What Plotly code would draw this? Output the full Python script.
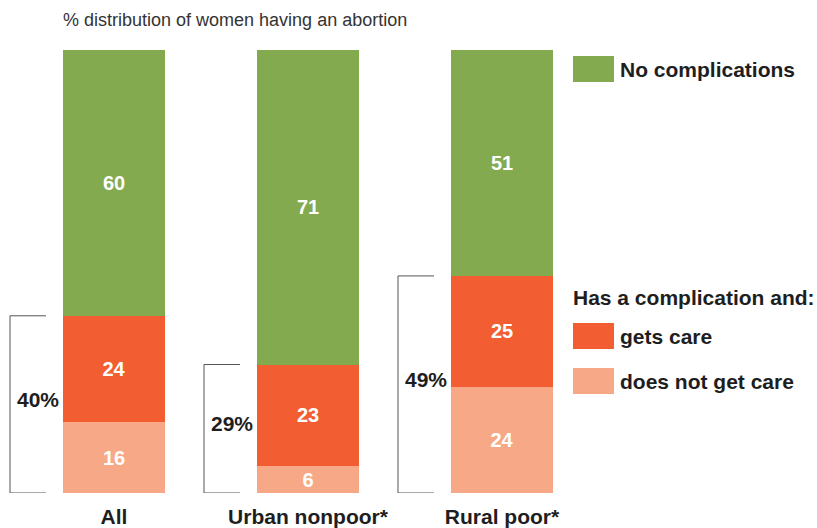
import plotly.graph_objects as go

categories = ["All", "Urban nonpoor*", "Rural poor*"]
no_complications = [60, 71, 51]
gets_care = [24, 23, 25]
no_care = [16, 6, 24]
complication_totals = [40, 29, 49]

series_names = ["does not get care", "gets care", "No complications"]
colors = {"No complications": "#84aa4f", "gets care": "#f25d32", "does not get care": "#f7a987"}

FONT = "Liberation Sans, Arial, sans-serif"
W, H = 817, 528
PLOT_TOP, PLOT_BOTTOM = 50, 493
BOLD = dict(family=FONT, size=21, color="#1e1e1e", weight="bold")

fig = go.Figure()
for name, vals in zip(series_names, [no_care, gets_care, no_complications]):
    fig.add_trace(go.Bar(
        x=list(range(len(categories))), y=vals, name=name,
        marker=dict(color=colors[name], line=dict(width=0)),
        width=0.53,
        text=[str(v) for v in vals], textposition="inside", insidetextanchor="middle",
        textangle=0, constraintext="none", cliponaxis=False,
        textfont=dict(family=FONT, size=20, color="white", weight="bold"),
        showlegend=False, hoverinfo="skip",
    ))

shapes = []
annotations = []
# brackets for complication totals
for i, tot in enumerate(complication_totals):
    common = dict(type="line", xref="x", yref="y", xsizemode="pixel", xanchor=i,
                  line=dict(color="#555555", width=1))
    shapes.append(dict(common, x0=-104, x1=-104, y0=0, y1=tot))
    shapes.append(dict(common, x0=-104, x1=-68, y0=tot, y1=tot))
    shapes.append(dict(common, x0=-104, x1=-68, y0=0, y1=0))
    annotations.append(dict(x=i, y=tot / 2, xref="x", yref="y", xshift=-76, yshift=5,
                            text=f"{tot}%", showarrow=False, font=BOLD))

def py(p):
    return (PLOT_BOTTOM - p) / (PLOT_BOTTOM - PLOT_TOP)

def px(p):
    return p / W

# legend
legend_items = [("No complications", 69), ("gets care", 336), ("does not get care", 381)]
for name, cy in legend_items:
    shapes.append(dict(type="rect", xref="paper", yref="paper",
                       x0=px(573), x1=px(614), y0=py(cy + 13), y1=py(cy - 13),
                       fillcolor=colors[name], line=dict(width=0)))
    annotations.append(dict(x=px(618), y=py(cy), xref="paper", yref="paper",
                            xanchor="left", yanchor="middle", text=name, showarrow=False,
                            font=BOLD))
annotations.append(dict(x=px(571), y=py(297), xref="paper", yref="paper",
                        xanchor="left", yanchor="middle", text="Has a complication and:",
                        showarrow=False, font=BOLD))
annotations.append(dict(x=px(61), y=py(20), xref="paper", yref="paper",
                        xanchor="left", yanchor="middle",
                        text="% distribution of women having an abortion", showarrow=False,
                        font=dict(family=FONT, size=18, color="#333333")))

step = 194
fig.update_layout(
    width=W, height=H, barmode="stack",
    margin=dict(l=0, r=0, t=PLOT_TOP, b=H - PLOT_BOTTOM),
    paper_bgcolor="white", plot_bgcolor="white",
    xaxis=dict(tickmode="array", tickvals=list(range(len(categories))), ticktext=categories,
               range=[-114 / step, (W - 114) / step], showgrid=False, zeroline=False,
               showline=False, ticks="", ticklabelstandoff=9,
               tickfont=BOLD, automargin=False),
    yaxis=dict(range=[0, 100], visible=False, automargin=False),
    shapes=shapes, annotations=annotations,
)
fig.write_html("out.html", config={"displayModeBar": False},
               post_script="document.body.style.margin='0';document.body.style.overflow='hidden';")
